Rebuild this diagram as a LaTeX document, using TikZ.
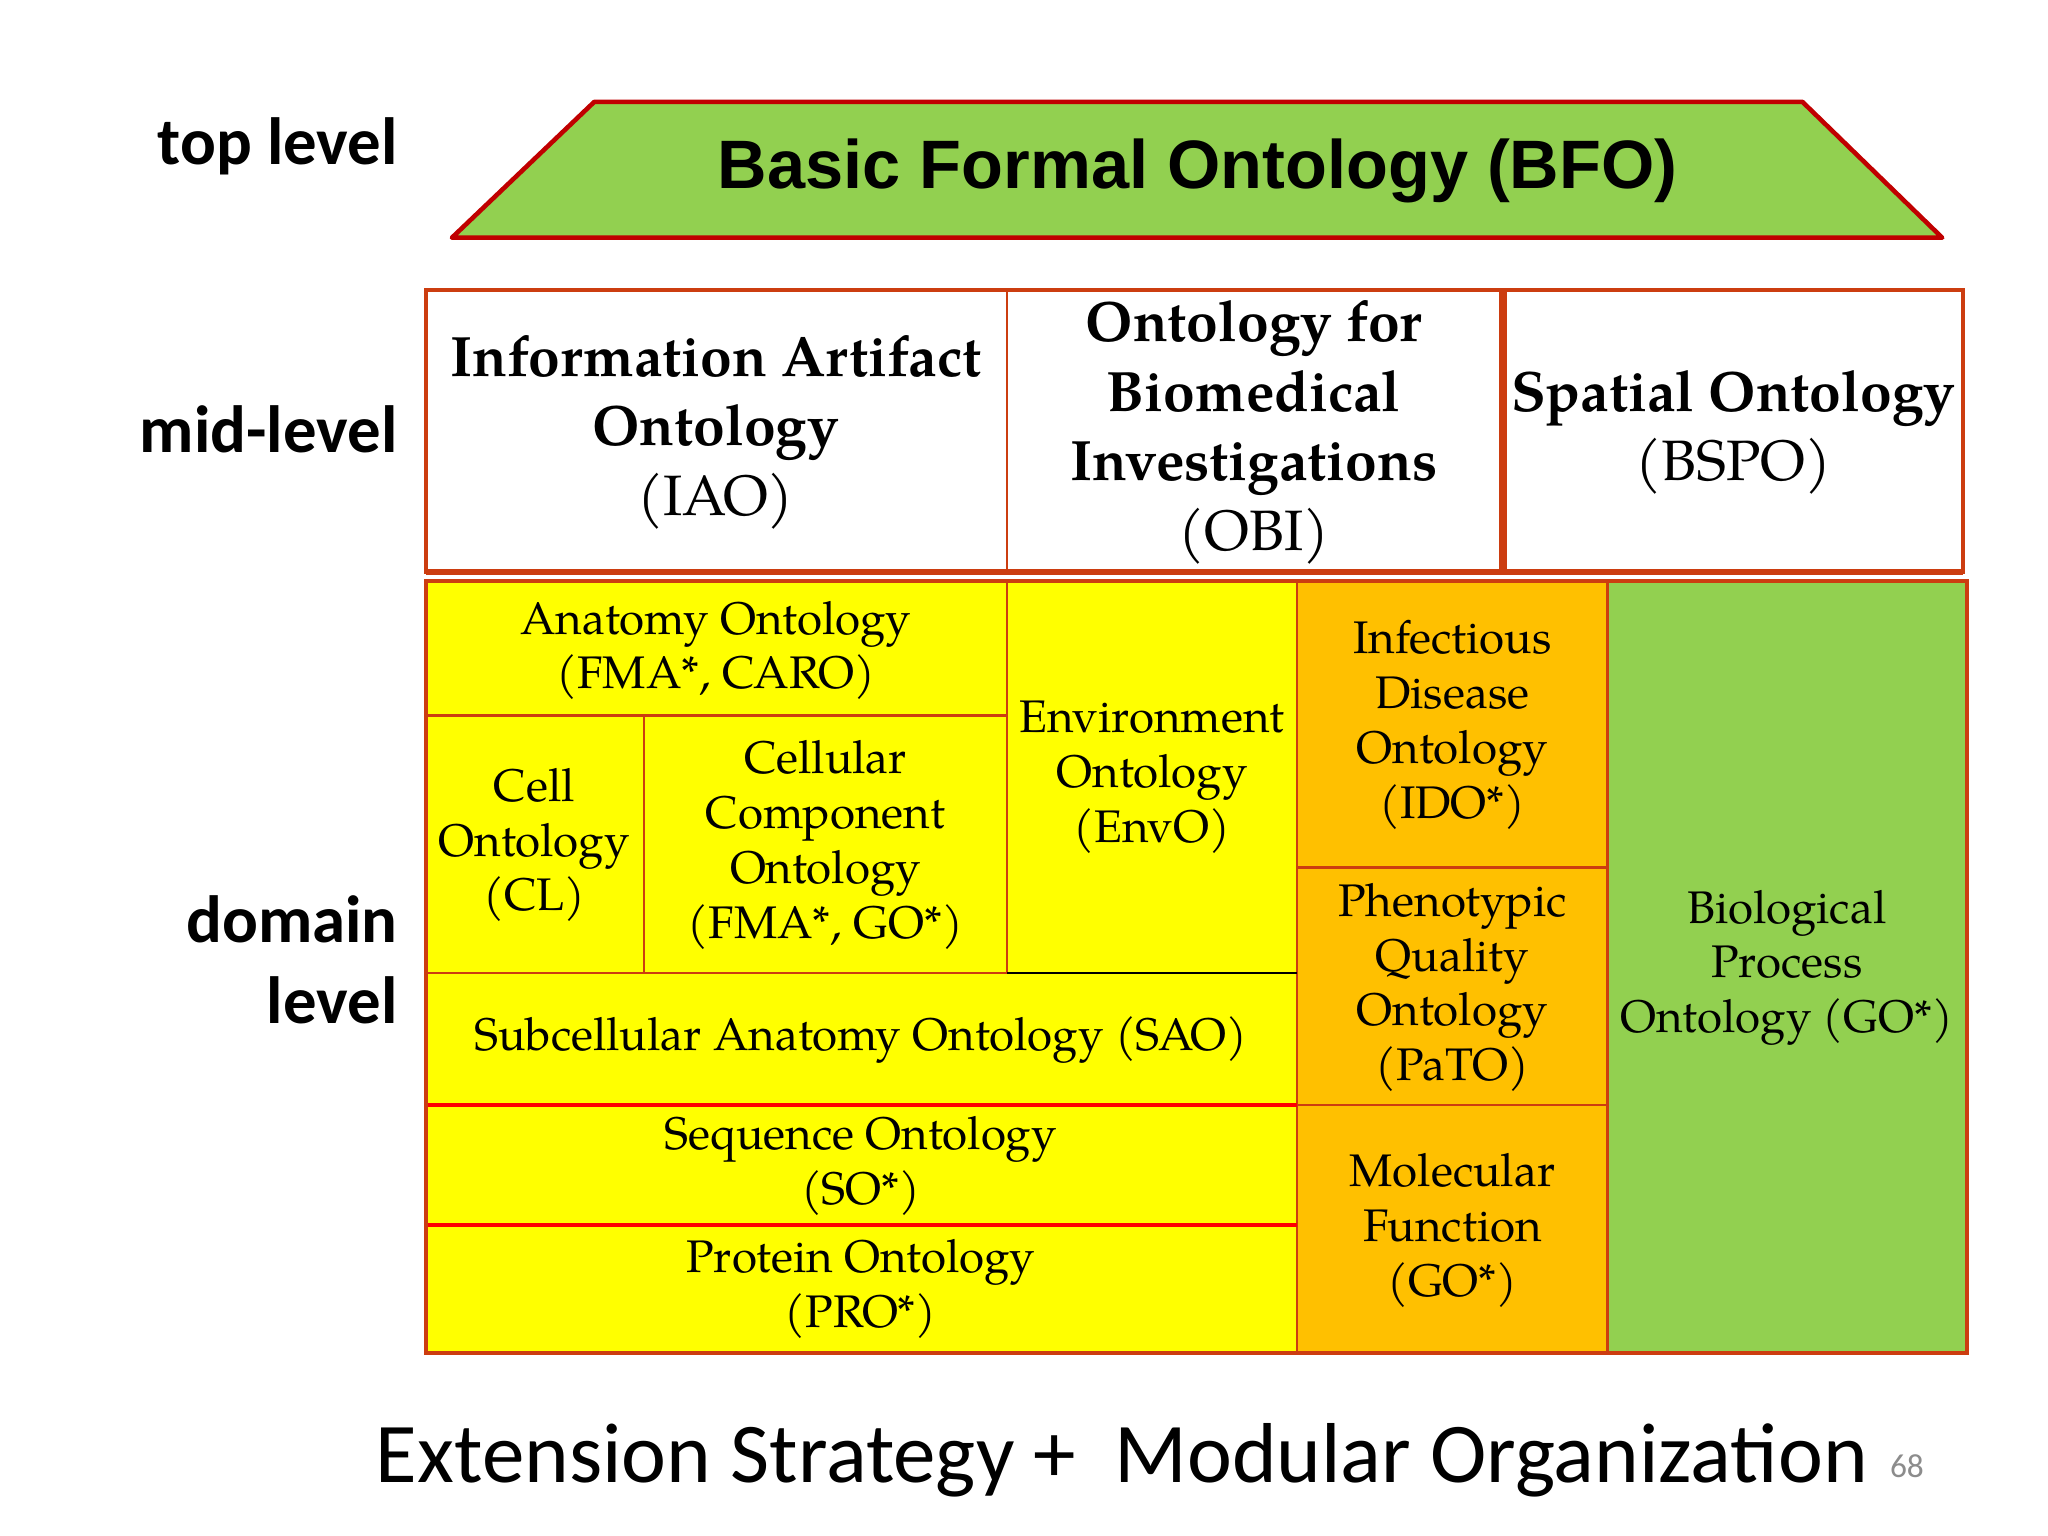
\documentclass[tikz,border=0pt]{standalone}
\usepackage{fontspec}
\setmainfont{texgyrepagella}[Extension=.otf, UprightFont=*-regular, BoldFont=*-bold]
\newfontfamily\calibrifont{Carlito}
\newfontfamily\arialfont{Liberation Sans}

\definecolor{bfogreen}{HTML}{92D050}
\definecolor{bfored}{HTML}{C00000}
\definecolor{frameorange}{HTML}{CC3D10}
\definecolor{domyellow}{HTML}{FFFF00}
\definecolor{domorange}{HTML}{FFC000}
\definecolor{pagegray}{HTML}{8C8C8C}

\begin{document}
\begin{tikzpicture}[
    x=0.0130612cm, y=-0.0130612cm,
    every node/.style={inner sep=0pt, align=center},
    level label/.style={font=\calibrifont\bfseries\fontsize{19}{23}\selectfont, anchor=east},
    mid text/.style={font=\fontsize{16.2}{19.8}\selectfont},
    dom text/.style={font=\fontsize{13}{15.6}\selectfont},
    cell/.style={draw=frameorange, line width=0.8pt},
    outer frame/.style={draw=frameorange, line width=1.2pt},
    bfo shape/.style={draw=bfored, fill=bfogreen, line width=1.3pt, line join=round}
]
    \useasboundingbox (0,0) rectangle (1568,1176);

    % Level labels
    \node[level label] (toplbl) at (305,112) {top level};
    \node[level label] (midlbl) at (305,329) {mid-level};
    \node[level label, align=right] (domlbl) at (305,735) {domain\\level};

    % Top level: BFO
    \draw[bfo shape] (455,78) -- (1380,78) -- (1487,182) -- (346,182) -- cycle;
    \node[font=\arialfont\bfseries\fontsize{19.5}{23}\selectfont] (bfo) at (917,131) {Basic Formal Ontology (BFO)};

    % Mid level
    \path[cell, fill=white] (326,222) rectangle (771,438);
    \path[cell, fill=white] (771,222) rectangle (1149,438);
    \draw[outer frame] (326,222) rectangle (1149,438);
    \draw[outer frame] (1152,222) rectangle (1503,438);
    \draw[frameorange, line width=1.7pt] (326,438) -- (1503,438);

    \node[mid text] (iao) at (548,331) {\textbf{Information Artifact}\\\textbf{Ontology}\\(IAO)};
    \node[mid text] (obi) at (960,331) {\textbf{Ontology for}\\\textbf{Biomedical}\\\textbf{Investigations}\\(OBI)};
    \node[mid text] (bspo) at (1327,331) {\textbf{Spatial Ontology}\\(BSPO)};

    % Domain level: yellow block
    \path[cell, fill=domyellow] (326,445) rectangle (771,548);
    \path[cell, fill=domyellow] (326,548) rectangle (493,745);
    \path[cell, fill=domyellow] (493,548) rectangle (771,745);
    \path[cell, fill=domyellow] (771,445) rectangle (993,745);
    \path[cell, fill=domyellow] (326,745) rectangle (993,846);
    \path[cell, fill=domyellow] (326,846) rectangle (993,938);
    \path[cell, fill=domyellow] (326,938) rectangle (993,1036);

    % Domain level: orange and green blocks
    \path[cell, fill=domorange] (993,445) rectangle (1231,664);
    \path[cell, fill=domorange] (993,664) rectangle (1231,846);
    \path[cell, fill=domorange] (993,846) rectangle (1231,1036);
    \path[cell, fill=bfogreen] (1231,445) rectangle (1506,1036);

    \draw[red, line width=1.1pt] (326,846) -- (993,846);
    \draw[red, line width=1.1pt] (326,938) -- (993,938);
    \draw[black, line width=0.8pt] (771,745) -- (993,745);
    \draw[outer frame] (326,445) rectangle (1506,1036);

    \node[dom text] (anat) at (548,498) {Anatomy Ontology\\(FMA*, CARO)};
    \node[dom text] (cl) at (409,647) {Cell\\Ontology\\(CL)};
    \node[dom text] (cc) at (632,647) {Cellular\\Component\\Ontology\\(FMA*, GO*)};
    \node[dom text] (envo) at (882,595) {Environment\\Ontology\\(EnvO)};
    \node[dom text] (sao) at (659,796) {Subcellular Anatomy Ontology (SAO)};
    \node[dom text] (so) at (659,893) {Sequence Ontology\\(SO*)};
    \node[dom text] (pro) at (659,987) {Protein Ontology\\(PRO*)};
    \node[dom text] (ido) at (1112,555) {Infectious\\Disease\\Ontology\\(IDO*)};
    \node[dom text] (pato) at (1112,756) {Phenotypic\\Quality\\Ontology\\(PaTO)};
    \node[dom text] (mf) at (1112,942) {Molecular\\Function\\(GO*)};
    \node[dom text] (bp) at (1368,741) {Biological\\Process\\Ontology (GO*)};

    % Caption
    \node[font=\calibrifont\fontsize{24.2}{28}\selectfont, anchor=base] (caption) at (859,1135) {Extension Strategy +\ \ Modular Organization};
    \node[font=\calibrifont\fontsize{9.5}{11}\selectfont, text=pagegray, anchor=base] (pagenum) at (1460,1131) {68};
\end{tikzpicture}
\end{document}
